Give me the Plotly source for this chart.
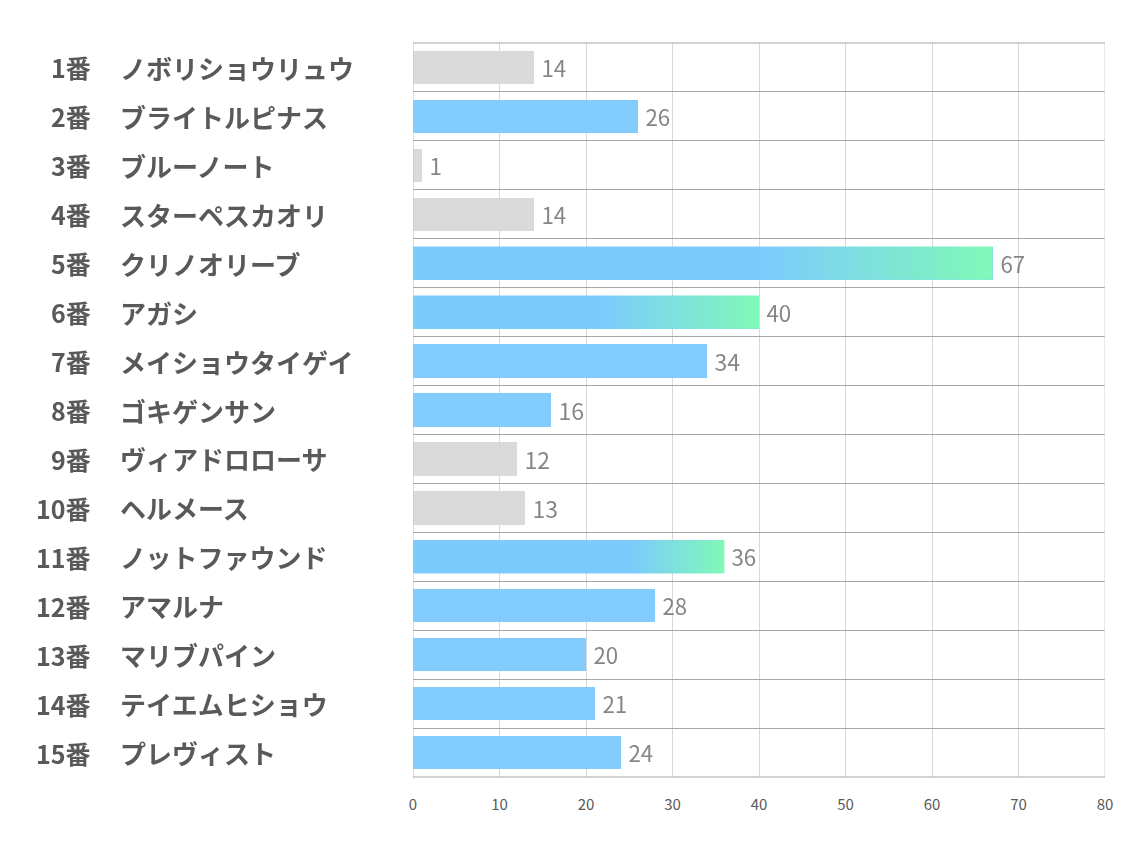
import plotly.graph_objects as go

numbers = ["1番", "2番", "3番", "4番", "5番", "6番", "7番", "8番", "9番", "10番",
           "11番", "12番", "13番", "14番", "15番"]
names = ["ノボリショウリュウ", "ブライトルピナス", "ブルーノート", "スターペスカオリ", "クリノオリーブ",
         "アガシ", "メイショウタイゲイ", "ゴキゲンサン", "ヴィアドロローサ", "ヘルメース",
         "ノットファウンド", "アマルナ", "マリブパイン", "テイエムヒショウ", "プレヴィスト"]
values = [14, 26, 1, 14, 67, 40, 34, 16, 12, 13, 36, 28, 20, 21, 24]
kinds = ["gray", "blue", "gray", "gray", "grad", "grad", "blue", "blue", "gray", "gray",
         "grad", "blue", "blue", "blue", "blue"]
x_ticks = [0, 10, 20, 30, 40, 50, 60, 70, 80]

BLUE = "#7ccbfd"
GREEN = "#80f9b8"
GRAY = "#d9d9d9"
grad_stop = {4: 0.6, 5: 0.54, 10: 0.7}

OFF = 8  # page body margin
W, H = 1134, 850
L = 413 - OFF
R = W + OFF - 1105
T = 43 - OFF
B = H + OFF - 777
pw = W - L - R

ys = list(range(len(values)))
colors = [GRAY if k == "gray" else BLUE for k in kinds]

fig = go.Figure()
fig.add_trace(go.Bar(
    x=values, y=ys, orientation="h", width=0.68,
    marker=dict(color=colors, line=dict(width=0)), opacity=0.95,
    text=["\u2009" + str(v) for v in values], textposition="outside",
    textfont=dict(size=23, color="#808080", family="Noto Sans CJK JP"),
    cliponaxis=False, hoverinfo="skip",
))

hw = 0.34
for i, (v, k) in enumerate(zip(values, kinds)):
    if k != "grad":
        continue
    s = grad_stop.get(i, 0.6)
    fig.add_trace(go.Scatter(
        x=[0, v, v, 0, 0], y=[i - hw, i - hw, i + hw, i + hw, i - hw],
        mode="lines", fill="toself", line=dict(width=0),
        fillgradient=dict(type="horizontal",
                          colorscale=[[0, BLUE], [s, BLUE], [1, GREEN]]),
        hoverinfo="skip", showlegend=False,
    ))

num_font = dict(size=25, color="#595959", family="Noto Sans CJK JP")
name_font = dict(size=26, color="#595959", family="Noto Sans CJK JP")
for i in ys:
    fig.add_annotation(x=(93 - OFF - L) / pw, xref="paper", y=i, yref="y",
                       text="<b>" + numbers[i] + "</b>", showarrow=False, xanchor="right",
                       font=num_font)
    fig.add_annotation(x=(118 - OFF - L) / pw, xref="paper", y=i, yref="y",
                       text="<b>" + names[i] + "</b>", showarrow=False, xanchor="left",
                       font=name_font)

fig.update_layout(
    width=W, height=H, margin=dict(l=L, r=R, t=T, b=B),
    plot_bgcolor="white", paper_bgcolor="white", showlegend=False,
    bargap=0,
    font=dict(family="Noto Sans CJK JP"),
    xaxis=dict(range=[0, 80], tickvals=x_ticks, showgrid=True, gridcolor="#d9d9d9",
               gridwidth=1, zeroline=False, showline=False,
               tickfont=dict(size=15, color="#595959"), ticks="outside", ticklen=14,
               tickcolor="rgba(0,0,0,0)"),
    yaxis=dict(range=[len(values) - 0.5, -0.5], tickvals=[i - 0.5 for i in range(len(values) + 1)],
               showticklabels=False, showgrid=True, gridcolor="#a6a6a6", gridwidth=1,
               zeroline=False, showline=False),
)
fig.add_shape(type="line", xref="x", yref="paper", x0=0, x1=0, y0=0, y1=1,
              line=dict(color="#bfbfbf", width=1))
fig.add_shape(type="line", xref="x", yref="paper", x0=80, x1=80, y0=0, y1=1,
              line=dict(color="#d0d0d0", width=1))
for yy in (0, 1):
    fig.add_shape(type="line", xref="paper", yref="paper", x0=0, x1=1, y0=yy, y1=yy,
                  line=dict(color="#a6a6a6", width=1))

fig.write_html("out.html")
